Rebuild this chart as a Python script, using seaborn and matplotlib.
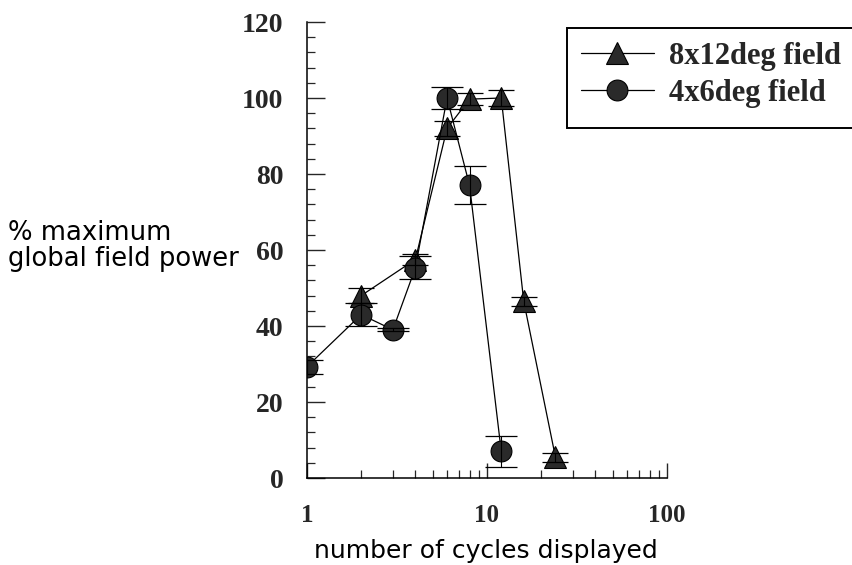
import matplotlib
matplotlib.use("Agg")
import matplotlib.pyplot as plt
import seaborn as sns
import pandas as pd
from matplotlib.patches import Rectangle
from matplotlib.ticker import FixedLocator, NullFormatter, MultipleLocator

# Stimulus field 8x12 deg
cycles_large = [2, 4, 6, 8, 12, 16, 24]
power_large = [48, 57.5, 92, 99.7, 100, 46.5, 5.5]
err_large = [2, 1.5, 2, 1.5, 2, 1.2, 1.2]

# Stimulus field 4x6 deg
cycles_small = [1, 2, 3, 4, 6, 8, 12]
power_small = [29.3, 43, 39, 55.3, 100, 77, 7]
err_small = [1.8, 3, 0.4, 3, 3, 5, 4]

series_labels = ["8x12deg field", "4x6deg field"]
x_tick_values = [1, 10, 100]
x_tick_labels = ["1", "10", "100"]
y_tick_values = [0, 20, 40, 60, 80, 100, 120]

sns.set_style("ticks")
plt.rcParams["font.family"] = ["DejaVu Sans"]

W, H = 853, 565
fig = plt.figure(figsize=(W / 100, H / 100), dpi=100)
ax = fig.add_axes([307 / W, 1 - 478 / H, (667 - 307) / W, (478 - 22) / H])

df_large = pd.DataFrame({"cycles": cycles_large, "power": power_large})
df_small = pd.DataFrame({"cycles": cycles_small, "power": power_small})

face = "#2a2a2a"
sns.lineplot(data=df_large, x="cycles", y="power", ax=ax, color="black",
             linewidth=0.9, marker="^", markersize=15.5, markeredgecolor="black",
             markeredgewidth=0.8, zorder=2)
sns.lineplot(data=df_small, x="cycles", y="power", ax=ax, color="black",
             linewidth=0.9, marker="o", markersize=15, markeredgecolor="black",
             markeredgewidth=0.8, zorder=2.1)
line_large, line_small = ax.lines[0], ax.lines[1]
for ln in (line_large, line_small):
    ln.set_markerfacecolor(face)

ax.errorbar(cycles_large, power_large, yerr=err_large, fmt="none",
            ecolor="black", elinewidth=0.8, capsize=9.5, capthick=0.9, zorder=3)
ax.errorbar(cycles_small, power_small, yerr=err_small, fmt="none",
            ecolor="black", elinewidth=0.8, capsize=11.5, capthick=0.9, zorder=3)

ax.set_xscale("log")
ax.set_xlim(1, 100)
ax.set_ylim(0, 120)

serif_bold = {"family": "Liberation Serif", "weight": "bold"}
ax.xaxis.set_major_locator(FixedLocator(x_tick_values))
ax.set_xticklabels(x_tick_labels, fontdict={**serif_bold, "size": 18})
ax.xaxis.set_minor_locator(FixedLocator([2, 3, 4, 5, 6, 7, 8, 9,
                                         20, 30, 40, 50, 60, 70, 80, 90]))
ax.xaxis.set_minor_formatter(NullFormatter())
ax.yaxis.set_major_locator(FixedLocator(y_tick_values))
ax.set_yticklabels([str(v) for v in y_tick_values], fontdict={**serif_bold, "size": 20})
ax.yaxis.set_minor_locator(MultipleLocator(4))

ax.tick_params(axis="x", which="major", direction="in", length=11, width=1.0, pad=19)
ax.tick_params(axis="x", which="minor", direction="in", length=6, width=0.9)
ax.tick_params(axis="y", which="major", direction="in", length=13, width=1.0, pad=17)
ax.tick_params(axis="y", which="minor", direction="in", length=6, width=0.9)

for side in ("top", "right"):
    ax.spines[side].set_visible(False)
for side in ("left", "bottom"):
    ax.spines[side].set_linewidth(1.1)
    ax.spines[side].set_color("black")

ax.set_xlabel("")
ax.set_ylabel("")
fig.text(8 / W, 1 - 246 / H, "% maximum\nglobal field power", ha="left", va="center",
         fontsize=18.6, linespacing=1.0, color="black")
fig.text(486 / W, 1 - 551 / H, "number of cycles displayed", ha="center", va="center",
         fontsize=18, color="black")

# legend frame runs past the right edge of the figure
fig.patches.append(Rectangle((567 / W, 1 - 128 / H), (870 - 567) / W, 100 / H,
                             transform=fig.transFigure, facecolor="white",
                             edgecolor="black", linewidth=1.4, zorder=4))
leg = fig.legend([line_large, line_small], series_labels, loc="upper left",
                 bbox_to_anchor=(567 / W, 1 - 28 / H), bbox_transform=fig.transFigure,
                 prop={**serif_bold, "size": 22}, frameon=False,
                 borderpad=0.45, handlelength=2.4,
                 handletextpad=0.5, labelspacing=0.27, borderaxespad=0)
leg.set_zorder(5)

fig.savefig("out.png", dpi=100)
